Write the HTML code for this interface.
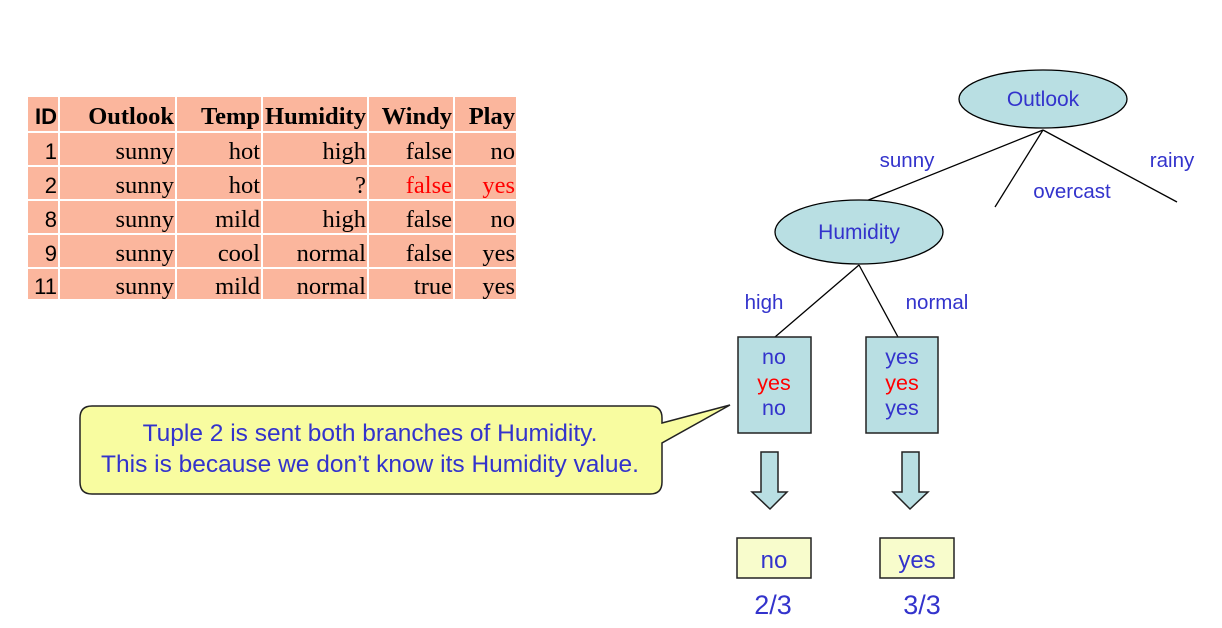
<!DOCTYPE html>
<html><head><meta charset="utf-8"><style>
html,body{margin:0;padding:0;background:#fff;width:1222px;height:628px;overflow:hidden}
</style></head><body>
<svg width="1222" height="628" viewBox="0 0 1222 628" xmlns="http://www.w3.org/2000/svg">
<g fill="#fbb69d">
<rect x="28" y="97" width="30" height="34"/><rect x="60" y="97" width="115" height="34"/><rect x="177" y="97" width="84" height="34"/><rect x="263" y="97" width="104" height="34"/><rect x="369" y="97" width="84" height="34"/><rect x="455" y="97" width="61" height="34"/>
<rect x="28" y="133" width="30" height="32"/><rect x="60" y="133" width="115" height="32"/><rect x="177" y="133" width="84" height="32"/><rect x="263" y="133" width="104" height="32"/><rect x="369" y="133" width="84" height="32"/><rect x="455" y="133" width="61" height="32"/>
<rect x="28" y="167" width="30" height="32"/><rect x="60" y="167" width="115" height="32"/><rect x="177" y="167" width="84" height="32"/><rect x="263" y="167" width="104" height="32"/><rect x="369" y="167" width="84" height="32"/><rect x="455" y="167" width="61" height="32"/>
<rect x="28" y="201" width="30" height="32"/><rect x="60" y="201" width="115" height="32"/><rect x="177" y="201" width="84" height="32"/><rect x="263" y="201" width="104" height="32"/><rect x="369" y="201" width="84" height="32"/><rect x="455" y="201" width="61" height="32"/>
<rect x="28" y="235" width="30" height="32"/><rect x="60" y="235" width="115" height="32"/><rect x="177" y="235" width="84" height="32"/><rect x="263" y="235" width="104" height="32"/><rect x="369" y="235" width="84" height="32"/><rect x="455" y="235" width="61" height="32"/>
<rect x="28" y="269" width="30" height="30"/><rect x="60" y="269" width="115" height="30"/><rect x="177" y="269" width="84" height="30"/><rect x="263" y="269" width="104" height="30"/><rect x="369" y="269" width="84" height="30"/><rect x="455" y="269" width="61" height="30"/>
</g>
<g font-family="Liberation Sans, sans-serif" font-size="22" text-anchor="end" fill="#000">
<text x="57" y="124" font-weight="bold">ID</text>
<text x="57" y="159">1</text><text x="57" y="193">2</text><text x="57" y="227">8</text><text x="57" y="261">9</text><text x="57" y="294">11</text>
</g>
<g font-family="Liberation Serif, serif" font-size="24.5" text-anchor="end" fill="#000">
<g font-weight="bold"><text x="174" y="124">Outlook</text><text x="260" y="124">Temp</text><text x="366" y="124" textLength="101" lengthAdjust="spacingAndGlyphs">Humidity</text><text x="452" y="124">Windy</text><text x="515" y="124">Play</text></g>
<text x="174" y="159">sunny</text><text x="260" y="159">hot</text><text x="366" y="159">high</text><text x="452" y="159">false</text><text x="515" y="159">no</text>
<text x="174" y="193">sunny</text><text x="260" y="193">hot</text><text x="366" y="193">?</text><text x="452" y="193" fill="#f00">false</text><text x="515" y="193" fill="#f00">yes</text>
<text x="174" y="227">sunny</text><text x="260" y="227">mild</text><text x="366" y="227">high</text><text x="452" y="227">false</text><text x="515" y="227">no</text>
<text x="174" y="261">sunny</text><text x="260" y="261">cool</text><text x="366" y="261">normal</text><text x="452" y="261">false</text><text x="515" y="261">yes</text>
<text x="174" y="294">sunny</text><text x="260" y="294">mild</text><text x="366" y="294">normal</text><text x="452" y="294">true</text><text x="515" y="294">yes</text>
</g>
<g stroke="#000" stroke-width="1.3">
<line x1="1043" y1="130" x2="861" y2="203"/><line x1="1043" y1="130" x2="995" y2="207"/><line x1="1043" y1="130" x2="1177" y2="202"/>
<line x1="859" y1="265" x2="775" y2="337"/><line x1="859" y1="265" x2="898" y2="337"/>
</g>
<ellipse cx="1043" cy="99" rx="84" ry="29" fill="#b9dfe3" stroke="#000" stroke-width="1.3"/>
<ellipse cx="859" cy="232" rx="84" ry="32" fill="#b9dfe3" stroke="#000" stroke-width="1.3"/>
<g stroke="#222" stroke-width="1.5">
<rect x="738" y="337" width="73" height="96" fill="#b9dfe3"/><rect x="866" y="337" width="72" height="96" fill="#b9dfe3"/>
<polygon points="761,452 778,452 778,492 787,492 770,509 752,492 761,492" fill="#b9dfe3"/>
<polygon points="902,452 919,452 919,492 928,492 910,509 893,492 902,492" fill="#b9dfe3"/>
<rect x="737" y="538" width="74" height="40" fill="#f8fccc"/><rect x="880" y="538" width="74" height="40" fill="#f8fccc"/>
</g>
<path d="M92,406 H650 Q662,406 662,418 V423 L730,405 L662,443 V482 Q662,494 650,494 H92 Q80,494 80,482 V418 Q80,406 92,406 Z" fill="#f8fca0" stroke="#222" stroke-width="1.5"/>
<g font-family="Liberation Sans, sans-serif" fill="#3333cc" text-anchor="middle">
<text x="1043" y="106" font-size="21">Outlook</text>
<text x="859" y="239" font-size="21">Humidity</text>
<text x="907" y="167" font-size="20.5">sunny</text><text x="1072" y="198" font-size="20.5">overcast</text><text x="1172" y="167" font-size="20.5">rainy</text>
<text x="764" y="309" font-size="20.5">high</text><text x="937" y="309" font-size="20.5">normal</text>
<text x="774" y="364" font-size="21.5">no</text><text x="774" y="390" font-size="21.5" fill="#f00">yes</text><text x="774" y="415" font-size="21.5">no</text>
<text x="902" y="364" font-size="21.5">yes</text><text x="902" y="390" font-size="21.5" fill="#f00">yes</text><text x="902" y="415" font-size="21.5">yes</text>
<text x="774" y="568" font-size="24">no</text><text x="917" y="568" font-size="24">yes</text>
<text x="773" y="614" font-size="27">2/3</text><text x="922" y="614" font-size="27">3/3</text>
<text x="370" y="441" font-size="24.5">Tuple 2 is sent both branches of Humidity.</text>
<text x="370" y="472" font-size="24.5">This is because we don’t know its Humidity value.</text>
</g>
</svg>
</body></html>
